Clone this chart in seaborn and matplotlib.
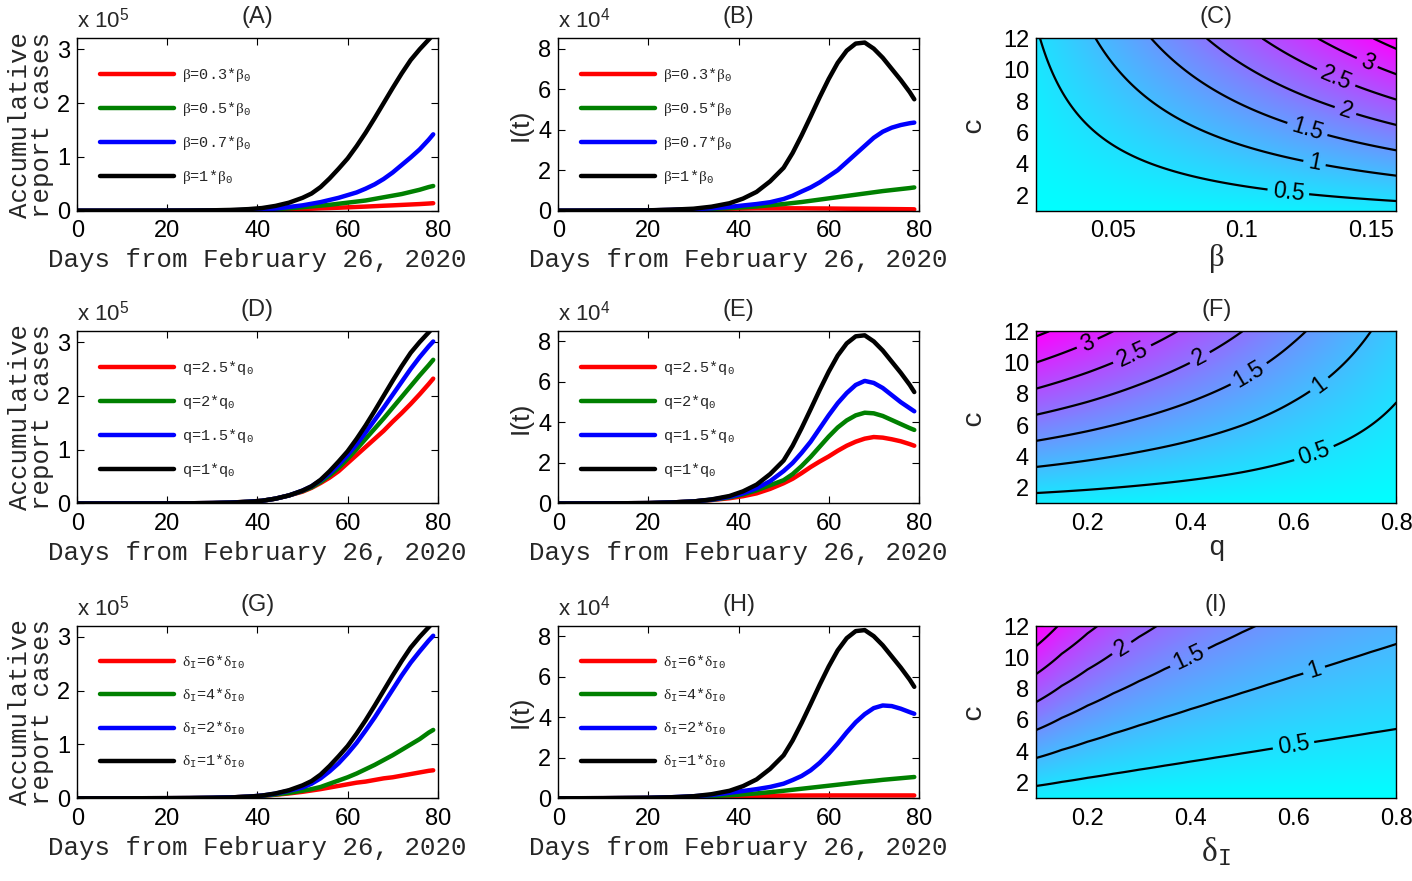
import numpy as np
import seaborn as sns
import matplotlib
matplotlib.use("Agg")
import matplotlib.pyplot as plt

# ---- time axis (days from February 26, 2020) ----
days = [0, 10, 20, 25, 30, 34, 38, 41, 44, 47, 50, 52, 54, 56, 58, 60, 62, 64, 66, 68,
        70, 72, 74, 76, 78, 79]

# ---- baseline curves (x 1e5 cumulative, x 1e4 infected) ----
cum_base = [0, 0, 0.002, 0.004, 0.008, 0.015, 0.03, 0.05, 0.09, 0.15, 0.24, 0.32, 0.44, 0.6,
            0.78, 0.97, 1.2, 1.45, 1.72, 2.0, 2.28, 2.55, 2.8, 3.0, 3.18, 3.27]
inf_base = [0, 0.005, 0.02, 0.05, 0.1, 0.2, 0.37, 0.6, 0.93, 1.45, 2.12, 2.85, 3.72, 4.65,
            5.6, 6.5, 7.3, 7.9, 8.25, 8.3, 8.0, 7.55, 7.0, 6.45, 5.85, 5.5]

# ---- (A) cumulative, beta ----
cum_beta_03 = [0, 0, 0.001, 0.002, 0.004, 0.006, 0.009, 0.012, 0.018, 0.025, 0.033, 0.038,
               0.045, 0.05, 0.056, 0.063, 0.07, 0.077, 0.085, 0.093, 0.1, 0.108, 0.116,
               0.124, 0.134, 0.14]
cum_beta_05 = [0, 0, 0.001, 0.002, 0.004, 0.007, 0.012, 0.018, 0.03, 0.045, 0.065, 0.08,
               0.095, 0.11, 0.13, 0.15, 0.17, 0.19, 0.22, 0.25, 0.28, 0.31, 0.35, 0.39,
               0.44, 0.46]
cum_beta_07 = [0, 0, 0.001, 0.002, 0.005, 0.008, 0.014, 0.02, 0.04, 0.07, 0.1, 0.13, 0.16,
               0.2, 0.24, 0.29, 0.34, 0.41, 0.49, 0.59, 0.71, 0.85, 0.99, 1.14, 1.32, 1.42]

# ---- (B) infected, beta ----
inf_beta_03 = [0, 0.005, 0.02, 0.035, 0.06, 0.08, 0.1, 0.11, 0.12, 0.12, 0.12, 0.12, 0.118,
               0.115, 0.112, 0.11, 0.105, 0.1, 0.097, 0.093, 0.09, 0.086, 0.082, 0.078,
               0.073, 0.07]
inf_beta_05 = [0, 0.005, 0.02, 0.035, 0.06, 0.09, 0.13, 0.17, 0.21, 0.27, 0.33, 0.38, 0.43,
               0.49, 0.55, 0.61, 0.67, 0.73, 0.79, 0.85, 0.91, 0.97, 1.02, 1.07, 1.12, 1.15]
inf_beta_07 = [0, 0.005, 0.02, 0.04, 0.07, 0.12, 0.19, 0.26, 0.33, 0.42, 0.58, 0.74, 0.95,
               1.15, 1.4, 1.7, 2.0, 2.4, 2.8, 3.2, 3.6, 3.9, 4.1, 4.23, 4.32, 4.35]

# ---- (D) cumulative, q ----
cum_q_25 = [0, 0, 0.002, 0.004, 0.009, 0.017, 0.034, 0.05, 0.09, 0.15, 0.22, 0.29, 0.38,
            0.48, 0.6, 0.75, 0.9, 1.05, 1.2, 1.35, 1.52, 1.68, 1.85, 2.03, 2.22, 2.32]
cum_q_20 = [0, 0, 0.002, 0.004, 0.009, 0.017, 0.034, 0.05, 0.09, 0.15, 0.23, 0.3, 0.4,
            0.52, 0.66, 0.83, 1.01, 1.2, 1.39, 1.58, 1.78, 1.98, 2.18, 2.38, 2.57, 2.67]
cum_q_15 = [0, 0, 0.002, 0.004, 0.009, 0.016, 0.032, 0.05, 0.09, 0.15, 0.24, 0.32, 0.43,
            0.56, 0.72, 0.9, 1.1, 1.32, 1.55, 1.78, 2.02, 2.26, 2.5, 2.72, 2.92, 3.01]

# ---- (E) infected, q ----
inf_q_25 = [0, 0.005, 0.02, 0.05, 0.1, 0.17, 0.26, 0.36, 0.5, 0.72, 1.0, 1.22, 1.5, 1.8,
            2.07, 2.32, 2.6, 2.85, 3.05, 3.2, 3.28, 3.25, 3.17, 3.07, 2.93, 2.85]
inf_q_20 = [0, 0.005, 0.02, 0.05, 0.1, 0.18, 0.3, 0.45, 0.65, 0.9, 1.15, 1.45, 1.85, 2.3,
            2.8, 3.3, 3.75, 4.1, 4.35, 4.48, 4.45, 4.32, 4.12, 3.92, 3.72, 3.63]
inf_q_15 = [0, 0.005, 0.02, 0.05, 0.1, 0.19, 0.33, 0.5, 0.75, 1.1, 1.6, 2.0, 2.5, 3.05,
            3.7, 4.35, 4.95, 5.45, 5.85, 6.05, 5.95, 5.7, 5.35, 5.0, 4.7, 4.55]

# ---- (G) cumulative, delta_I ----
cum_d_6 = [0, 0, 0.002, 0.004, 0.009, 0.016, 0.03, 0.045, 0.065, 0.09, 0.12, 0.145, 0.17,
           0.2, 0.23, 0.26, 0.29, 0.31, 0.34, 0.37, 0.39, 0.42, 0.45, 0.48, 0.51, 0.52]
cum_d_4 = [0, 0, 0.002, 0.004, 0.009, 0.016, 0.03, 0.045, 0.07, 0.1, 0.14, 0.17, 0.21,
           0.27, 0.33, 0.39, 0.46, 0.54, 0.62, 0.71, 0.8, 0.9, 1.0, 1.1, 1.22, 1.27]
cum_d_2 = [0, 0, 0.002, 0.004, 0.009, 0.016, 0.03, 0.05, 0.085, 0.14, 0.2, 0.27, 0.37,
           0.5, 0.65, 0.83, 1.03, 1.26, 1.5, 1.76, 2.02, 2.28, 2.52, 2.73, 2.93, 3.02]

# ---- (H) infected, delta_I ----
inf_d_6 = [0, 0.005, 0.02, 0.035, 0.055, 0.075, 0.095, 0.105, 0.115, 0.125, 0.13, 0.133,
           0.135, 0.137, 0.138, 0.139, 0.14, 0.14, 0.14, 0.14, 0.14, 0.14, 0.14, 0.14,
           0.14, 0.14]
inf_d_4 = [0, 0.005, 0.02, 0.04, 0.07, 0.11, 0.15, 0.19, 0.24, 0.3, 0.37, 0.42, 0.47, 0.52,
           0.57, 0.62, 0.67, 0.72, 0.77, 0.82, 0.86, 0.91, 0.95, 0.99, 1.03, 1.05]
inf_d_2 = [0, 0.005, 0.02, 0.05, 0.1, 0.16, 0.27, 0.36, 0.45, 0.56, 0.72, 0.9, 1.1, 1.38,
           1.75, 2.2, 2.7, 3.25, 3.75, 4.15, 4.45, 4.58, 4.55, 4.42, 4.25, 4.17]

# ---- contour panels: R0 per unit of c, read along x ----
beta_nodes = [0.02, 0.04, 0.06, 0.08, 0.10, 0.12, 0.14, 0.16]
r0_per_c_beta = [0.0386, 0.0772, 0.1158, 0.1544, 0.193, 0.2316, 0.2702, 0.3088]
q_nodes = [0.1, 0.2, 0.3, 0.4, 0.5, 0.6, 0.7, 0.8]
r0_per_c_q = [0.300, 0.267, 0.233, 0.200, 0.167, 0.133, 0.100, 0.067]
dI_nodes = [0.10, 0.15, 0.20, 0.25, 0.30, 0.35, 0.40, 0.45, 0.50, 0.55, 0.60, 0.65, 0.70,
            0.75, 0.80]
r0_per_c_dI = [0.280, 0.2444, 0.2168, 0.1948, 0.1769, 0.1620, 0.1494, 0.1386, 0.1293,
               0.1211, 0.1139, 0.1076, 0.1019, 0.0967, 0.0921]
r0_levels = [0.5, 1, 1.5, 2, 2.5, 3, 3.5]

colors = ["#ff0000", "#008000", "#0000ff", "#000000"]
beta_labels = [r"$\mathrm{\beta}$=0.3*$\mathrm{\beta}_{\mathtt{0}}$",
               r"$\mathrm{\beta}$=0.5*$\mathrm{\beta}_{\mathtt{0}}$",
               r"$\mathrm{\beta}$=0.7*$\mathrm{\beta}_{\mathtt{0}}$",
               r"$\mathrm{\beta}$=1*$\mathrm{\beta}_{\mathtt{0}}$"]
q_labels = [r"q=2.5*$\mathtt{q}_{\mathtt{0}}$", r"q=2*$\mathtt{q}_{\mathtt{0}}$",
            r"q=1.5*$\mathtt{q}_{\mathtt{0}}$", r"q=1*$\mathtt{q}_{\mathtt{0}}$"]
d_labels = [r"$\mathrm{\delta}_{\mathtt{I}}$=6*$\mathrm{\delta}_{\mathtt{I0}}$",
            r"$\mathrm{\delta}_{\mathtt{I}}$=4*$\mathrm{\delta}_{\mathtt{I0}}$",
            r"$\mathrm{\delta}_{\mathtt{I}}$=2*$\mathrm{\delta}_{\mathtt{I0}}$",
            r"$\mathrm{\delta}_{\mathtt{I}}$=1*$\mathrm{\delta}_{\mathtt{I0}}$"]

sns.set_style("ticks")
plt.rcParams["font.family"] = ["Liberation Sans", "DejaVu Sans"]
plt.rcParams.update({
    "mathtext.fontset": "custom",
    "mathtext.rm": "Liberation Serif",
    "mathtext.it": "Liberation Serif",
    "mathtext.sf": "Liberation Sans",
    "mathtext.tt": "Liberation Mono",
    "xtick.direction": "in", "ytick.direction": "in",
    "xtick.top": True, "ytick.right": True,
    "xtick.major.size": 5, "ytick.major.size": 5,
    "xtick.major.width": 0.8, "ytick.major.width": 0.8,
    "xtick.color": "black", "ytick.color": "black",
    "axes.edgecolor": "black", "axes.linewidth": 1.0,
    "xtick.labelsize": 17, "ytick.labelsize": 17,
    "xtick.major.pad": 7, "ytick.major.pad": 5,
})
MONO = "Liberation Mono"

fig = plt.figure(figsize=(14.12, 8.81), dpi=100)
col_left = [0.0547, 0.3954, 0.7337]
col_w = 0.2553
row_bottom = [0.7608, 0.4285, 0.0939]
row_h = 0.1955


def line_panel(ax, series, labels, ylim, yticks, scale_txt, ylabel, title, cum):
    for vals, col, lab in zip(series, colors, labels):
        sns.lineplot(x=days, y=vals, ax=ax, color=col, lw=3.2, label=lab)
    ax.set_xlim(0, 80)
    ax.set_ylim(*ylim)
    ax.set_xticks([0, 20, 40, 60, 80])
    ax.set_yticks(yticks)
    ax.set_xlabel("Days from February 26, 2020", family=MONO, fontsize=18.5, labelpad=4)
    if cum:
        ax.set_ylabel(ylabel, family=MONO, fontsize=18.5, linespacing=0.9, labelpad=2)
    else:
        ax.set_ylabel(ylabel, fontsize=19, labelpad=4)
    ax.set_title(title, fontsize=17, pad=11)
    ax.text(0.0, 1.062, scale_txt, transform=ax.transAxes, fontsize=16,
            ha="left", va="baseline")
    ax.legend(loc="upper left", bbox_to_anchor=(0.045, 0.875), frameon=False,
              prop={"family": MONO, "size": 11}, handlelength=4.9, labelspacing=1.05,
              handletextpad=0.5, borderaxespad=0)


def contour_panel(ax, xnodes, r0_per_c, xlim, xticks, xticklabels, title, label_pos):
    c_grid = np.linspace(1, 12, 300)
    field = np.outer(c_grid, r0_per_c)
    ax.contourf(xnodes, c_grid, field, levels=np.linspace(field.min(), field.max(), 256),
                cmap="cool")
    cs = ax.contour(xnodes, c_grid, field, levels=r0_levels, colors="k", linewidths=1.6)
    ax.clabel(cs, fmt="%g", fontsize=16.5, inline=True, manual=label_pos)
    ax.set_xlim(*xlim)
    ax.set_ylim(1, 12)
    ax.set_xticks(xticks)
    ax.set_xticklabels(xticklabels)
    ax.set_yticks([2, 4, 6, 8, 10, 12])
    ax.set_ylabel("c", family=MONO, fontsize=20, labelpad=12)
    ax.set_title(title, fontsize=17, pad=11)
    return ax


row_series = [
    ([cum_beta_03, cum_beta_05, cum_beta_07, cum_base],
     [inf_beta_03, inf_beta_05, inf_beta_07, inf_base], beta_labels),
    ([cum_q_25, cum_q_20, cum_q_15, cum_base],
     [inf_q_25, inf_q_20, inf_q_15, inf_base], q_labels),
    ([cum_d_6, cum_d_4, cum_d_2, cum_base],
     [inf_d_6, inf_d_4, inf_d_2, inf_base], d_labels),
]
titles = [("(A)", "(B)", "(C)"), ("(D)", "(E)", "(F)"), ("(G)", "(H)", "(I)")]

for r, (cum_s, inf_s, labs) in enumerate(row_series):
    ax1 = fig.add_axes([col_left[0], row_bottom[r], col_w, row_h])
    line_panel(ax1, cum_s, labs, (0, 3.2), [0, 1, 2, 3], r"x 10$^{\mathsf{5}}$",
               "Accumulative\nreport cases", titles[r][0], True)
    ax2 = fig.add_axes([col_left[1], row_bottom[r], col_w, row_h])
    line_panel(ax2, inf_s, labs, (0, 8.5), [0, 2, 4, 6, 8], r"x 10$^{\mathsf{4}}$",
               "I(t)", titles[r][1], False)

axC = fig.add_axes([col_left[2], row_bottom[0], col_w, row_h])
contour_panel(axC, beta_nodes, r0_per_c_beta, (0.02, 0.16), [0.05, 0.1, 0.15],
              ["0.05", "0.1", "0.15"], "(C)",
              [(0.118, 2.2), (0.128, 3.9), (0.125, 6.0), (0.14, 7.3), (0.136, 9.3), (0.149, 10.6)])
axC.set_xlabel(r"$\mathrm{\beta}$", fontsize=22, labelpad=0)

axF = fig.add_axes([col_left[2], row_bottom[1], col_w, row_h])
contour_panel(axF, q_nodes, r0_per_c_q, (0.1, 0.8), [0.2, 0.4, 0.6, 0.8],
              ["0.2", "0.4", "0.6", "0.8"], "(F)",
              [(0.64, 4.2), (0.65, 8.6), (0.52, 8.9), (0.42, 10.2), (0.29, 10.3), (0.2, 11.2)])
axF.set_xlabel("q", family=MONO, fontsize=20, labelpad=0)

axI = fig.add_axes([col_left[2], row_bottom[2], col_w, row_h])
contour_panel(axI, dI_nodes, r0_per_c_dI, (0.1, 0.8), [0.2, 0.4, 0.6, 0.8],
              ["0.2", "0.4", "0.6", "0.8"], "(I)",
              [(0.6, 4.4), (0.64, 9.2), (0.4, 9.8), (0.27, 10.4)])
axI.set_xlabel(r"$\mathrm{\delta}_{\mathtt{I}}$", fontsize=24, labelpad=4)

fig.savefig("out.png", dpi=100)
